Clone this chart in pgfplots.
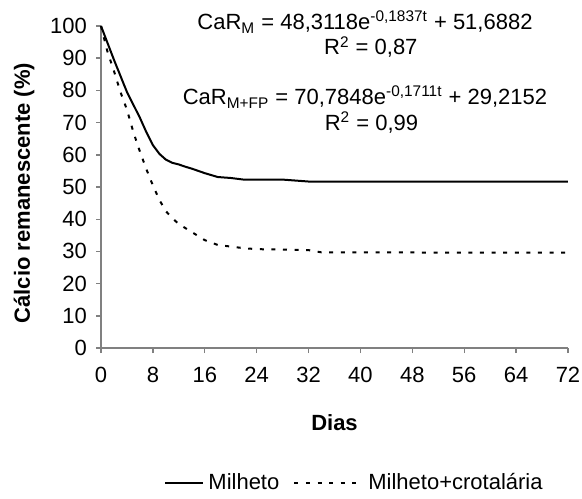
\documentclass[border=0pt]{standalone}
\usepackage{pgfplots}
\pgfplotsset{compat=1.18}
\usepackage{fontspec}
\setmainfont{Liberation Sans}
\newcommand{\fs}{\fontsize{11}{13.2}\selectfont}
\definecolor{axisgray}{HTML}{808080}
\pgfplotsset{
    legsolid/.style={legend image code/.code={\draw[##1] (0pt,0pt) -- (19pt,0pt);}},
    legdots/.style={legend image code/.code={\draw[##1] (0pt,0pt) -- (34.5pt,0pt);}},
}
\begin{document}
\begin{tikzpicture}[font=\fs]
\begin{axis}[
    scale only axis,
    width=233.5pt, height=161pt,
    xmin=0, xmax=72, ymin=0, ymax=100,
    xtick={0,8,...,72}, ytick={0,10,...,100},
    axis x line*=bottom, axis y line*=left,
    axis line style={draw=axisgray, line width=0.7pt},
    every tick/.style={draw=axisgray, line width=0.7pt},
    tick align=outside,
    major tick length=2.5pt,
    clip=false,
    /pgf/number format/assume math mode=true,
    tick label style={font=\fs},
    xticklabel style={yshift=-3.5pt},
    yticklabel style={xshift=-1pt},
    every axis y label/.style={at={(axis description cs:-0.1649,0.481)}, rotate=90, anchor=center},
    every axis x label/.style={at={(axis description cs:0.5,-0.232)}, anchor=center},
    ylabel={\bfseries Cálcio remanescente (\%)},
    xlabel={\bfseries Dias},
    legend style={at={(axis description cs:0.545,-0.419)}, anchor=center, draw=none, fill=none,
        legend columns=2, font=\fs, /tikz/every even column/.append style={column sep=5pt}},
]
\addplot[black, line width=1pt, legsolid] coordinates {
    (0,100) (2,89.5) (4,79.5) (5,75.5) (6,71.5) (7,67) (8,63) (9,60.3) (10,58.5)
    (11,57.5) (12,57) (13,56.3) (14,55.7) (16,54.3) (18,53.1) (20,52.8) (22,52.3)
    (28,52.3) (32,51.7) (40,51.7) (48,51.7) (56,51.7) (64,51.7) (72,51.7)
};
\addlegendentry{Milheto}
\addplot[black, line width=1pt, dash pattern=on 2pt off 3.8pt, legdots] coordinates {
    (0,100) (1,92) (2,86) (3,79.5) (4,74) (5,67) (6,61) (7,55.5) (8,50.5) (9,46)
    (10,42.5) (11,40.3) (12,38.5) (14,36) (16,33.5) (18,32) (20,31.5) (22,31)
    (24,30.7) (32,30.4) (34,29.7) (72,29.6)
};
\addlegendentry{Milheto+crotalária}
\node[anchor=base, inner sep=0pt] at (axis cs:40.7,98.8) {CaR\textsubscript{M} = 48,3118e\textsuperscript{-0,1837t} + 51,6882};
\node[anchor=base, inner sep=0pt] at (axis cs:41.6,91.0) {R\textsuperscript{2} = 0,87};
\node[anchor=base, inner sep=0pt] at (axis cs:40.7,75.5) {CaR\textsubscript{M+FP} = 70,7848e\textsuperscript{-0,1711t} + 29,2152};
\node[anchor=base, inner sep=0pt] at (axis cs:41.7,67.7) {R\textsuperscript{2} = 0,99};
\end{axis}
\pgfresetboundingbox
\path (-50.5pt,-75pt) rectangle (240.5pt,174pt);
\end{tikzpicture}
\end{document}
